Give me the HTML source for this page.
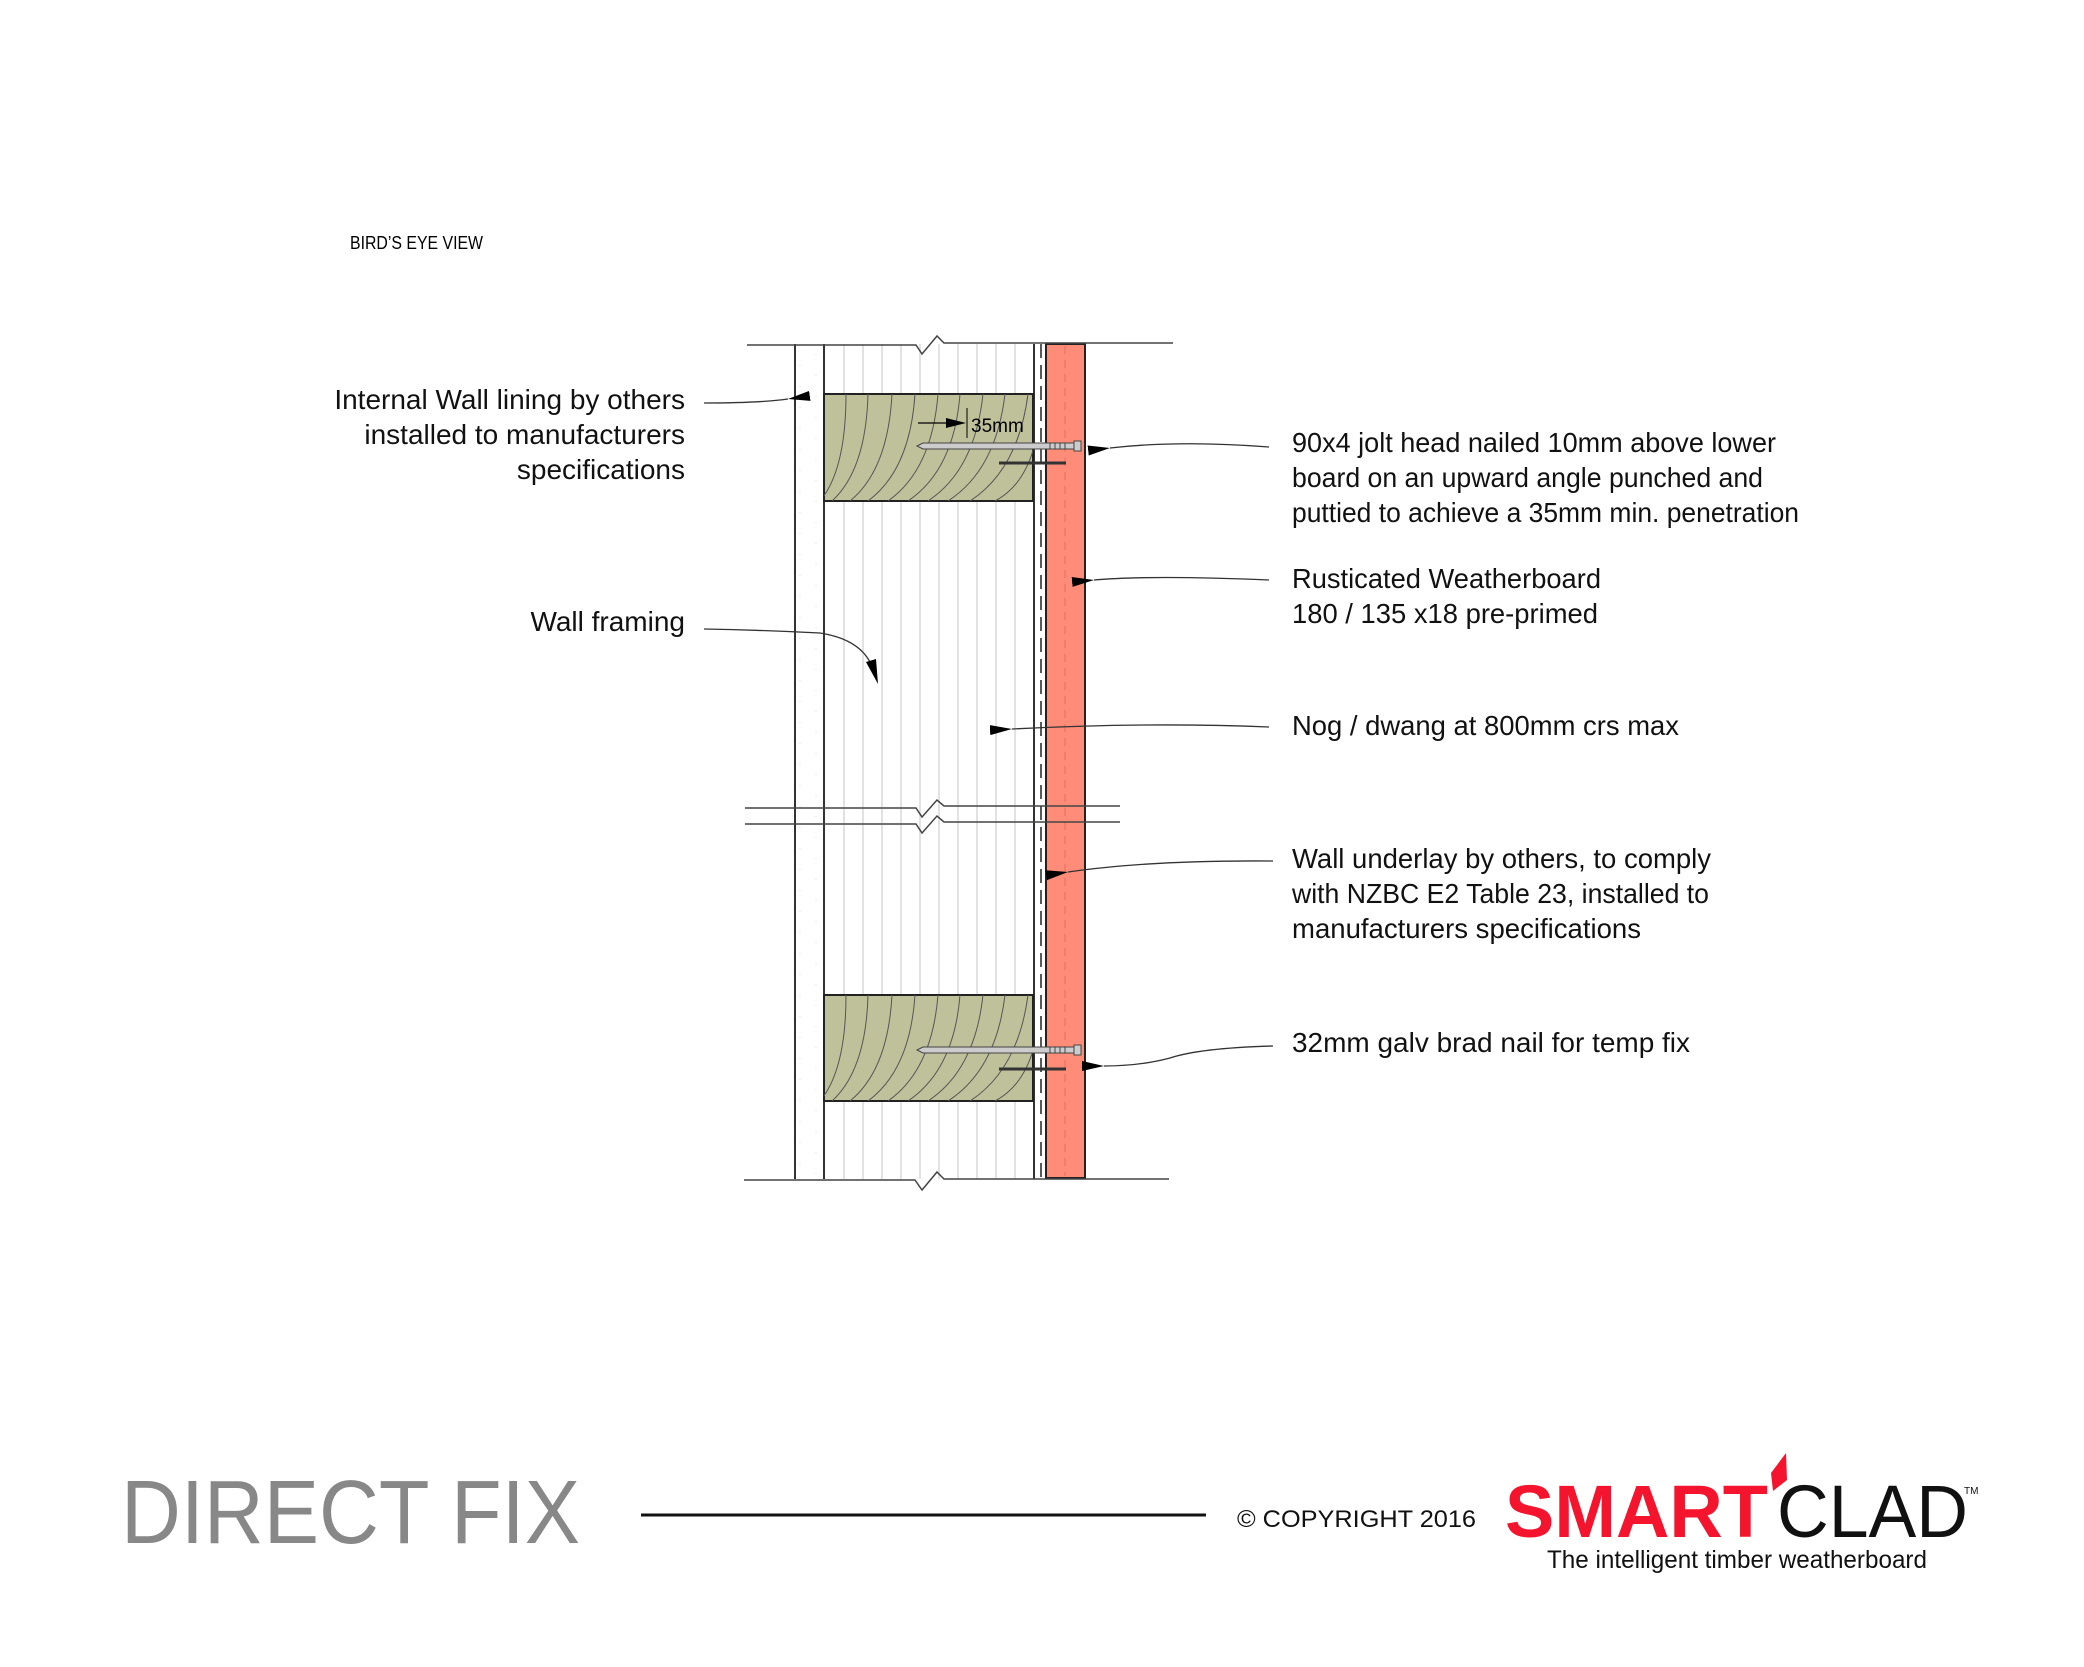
<!DOCTYPE html>
<html><head><meta charset="utf-8"><style>
html,body{margin:0;padding:0;background:#fff}
svg{display:block}
text{font-family:"Liberation Sans",sans-serif}
</style></head><body>
<svg width="2084" height="1667" viewBox="0 0 2084 1667" xmlns="http://www.w3.org/2000/svg">
<defs>
<marker id="ah" markerWidth="22" markerHeight="10" refX="0" refY="5" orient="auto" markerUnits="userSpaceOnUse">
<path d="M22,0 L0,5 L22,10 Z" fill="#000"/>
</marker>
<clipPath id="n1"><rect x="824" y="394" width="209" height="107"/></clipPath>
<clipPath id="n2"><rect x="824" y="995" width="209" height="106"/></clipPath>
</defs>

<text x="350" y="249" font-size="18" textLength="133" lengthAdjust="spacingAndGlyphs">BIRD’S EYE VIEW</text>

<g stroke="#e2e2e2" stroke-width="2">
<line x1="844" y1="344" x2="844" y2="1179"/><line x1="863" y1="344" x2="863" y2="1179"/>
<line x1="882" y1="344" x2="882" y2="1179"/><line x1="901" y1="344" x2="901" y2="1179"/>
<line x1="920" y1="344" x2="920" y2="1179"/><line x1="939" y1="344" x2="939" y2="1179"/>
<line x1="958" y1="344" x2="958" y2="1179"/><line x1="977" y1="344" x2="977" y2="1179"/>
<line x1="996" y1="344" x2="996" y2="1179"/><line x1="1015" y1="344" x2="1015" y2="1179"/>
</g>
<g stroke="#ddd" stroke-width="1" stroke-dasharray="1,20">
<line x1="800" y1="344" x2="800" y2="1179"/><line x1="816" y1="354" x2="816" y2="1179"/>
</g>
<g stroke="#333" stroke-width="2">
<line x1="795" y1="344" x2="795" y2="1179"/>
<line x1="824" y1="344" x2="824" y2="1179"/>
<line x1="1034" y1="344" x2="1034" y2="1179"/>
</g>
<line x1="1041" y1="344" x2="1041" y2="1179" stroke="#222" stroke-width="1.5" stroke-dasharray="14,7"/>
<rect x="1046" y="344" width="39" height="834" fill="#ff8c78" stroke="#222" stroke-width="2"/>
<line x1="1065" y1="346" x2="1065" y2="1176" stroke="#e07060" stroke-width="1" stroke-dasharray="8,6"/>

<rect x="824" y="394" width="209" height="107" fill="#bfc19b" stroke="#222" stroke-width="2"/>
<g clip-path="url(#n1)" fill="none" stroke="#555" stroke-width="1">
<path d="M846,394 Q846,470 820,501"/><path d="M868,394 Q866,470 832,501"/><path d="M892,394 Q888,470 850,501"/>
<path d="M915,394 Q910,470 868,501"/><path d="M938,394 Q932,470 888,501"/><path d="M960,394 Q954,470 908,501"/>
<path d="M983,394 Q975,470 928,501"/><path d="M1005,394 Q996,470 948,501"/><path d="M1028,394 Q1018,470 970,501"/>
<path d="M1040,410 Q1035,480 995,501"/>
</g>
<rect x="824" y="995" width="209" height="106" fill="#bfc19b" stroke="#222" stroke-width="2"/>
<g clip-path="url(#n2)" fill="none" stroke="#555" stroke-width="1">
<path d="M846,995 Q846,1070 820,1101"/><path d="M868,995 Q866,1070 832,1101"/><path d="M892,995 Q888,1070 850,1101"/>
<path d="M915,995 Q910,1070 868,1101"/><path d="M938,995 Q932,1070 888,1101"/><path d="M960,995 Q954,1070 908,1101"/>
<path d="M983,995 Q975,1070 928,1101"/><path d="M1005,995 Q996,1070 948,1101"/><path d="M1028,995 Q1018,1070 970,1101"/>
<path d="M1040,1010 Q1035,1080 995,1101"/>
</g>

<g>
<path d="M917,446 L923,443 L1074,443 L1074,449 L923,449 Z" fill="#ccc" stroke="#444" stroke-width="1"/>
<rect x="1074" y="441" width="7" height="10" fill="#ccc" stroke="#444"/>
<g stroke="#444" stroke-width="1"><line x1="1050" y1="443" x2="1050" y2="449"/><line x1="1055" y1="443" x2="1055" y2="449"/><line x1="1060" y1="443" x2="1060" y2="449"/><line x1="1065" y1="443" x2="1065" y2="449"/></g>
<line x1="999" y1="463" x2="1066" y2="463" stroke="#333" stroke-width="3"/>
<path d="M917,1050 L923,1047 L1074,1047 L1074,1053 L923,1053 Z" fill="#ccc" stroke="#444" stroke-width="1"/>
<rect x="1074" y="1045" width="7" height="10" fill="#ccc" stroke="#444"/>
<g stroke="#444" stroke-width="1"><line x1="1050" y1="1047" x2="1050" y2="1053"/><line x1="1055" y1="1047" x2="1055" y2="1053"/><line x1="1060" y1="1047" x2="1060" y2="1053"/><line x1="1065" y1="1047" x2="1065" y2="1053"/></g>
<line x1="999" y1="1069" x2="1066" y2="1069" stroke="#333" stroke-width="3"/>
</g>
<line x1="918" y1="423" x2="950" y2="423" stroke="#000" stroke-width="1.2"/>
<path d="M966,423 L946,418 L946,428 Z" fill="#000"/>
<line x1="967" y1="408" x2="967" y2="438" stroke="#000" stroke-width="1"/>
<text x="971" y="432" font-size="19">35mm</text>

<g fill="none" stroke="#444" stroke-width="1.5">
<path d="M747,345 L916,345 L922,354 L937,336 L944,343 L1173,343"/>
<path d="M745,808 L916,808 L922,817 L937,800 L944,806 L1120,806"/>
<path d="M745,824 L916,824 L922,833 L937,816 L944,822 L1120,822"/>
<path d="M744,1180 L915,1180 L922,1190 L937,1172 L944,1179 L1169,1179"/>
</g>

<g fill="none" stroke="#333" stroke-width="1.3">
<path d="M704,403 Q760,403 788,399" marker-end="url(#ah)"/>
<path d="M704,629 Q760,630 820,633 Q865,640 874,672"/>
<path d="M1269,447 Q1180,440 1110,448" marker-end="url(#ah)"/>
<path d="M1269,580 Q1150,575 1094,580" marker-end="url(#ah)"/>
<path d="M1269,727 Q1150,722 1012,729" marker-end="url(#ah)"/>
<path d="M1273,861 Q1150,860 1068,872" marker-end="url(#ah)"/>
<path d="M1273,1046 Q1200,1048 1170,1058 Q1140,1066 1104,1066" marker-end="url(#ah)"/>
</g>
<path d="M878,684 L866,662 L876,659 Z" fill="#000"/>

<g font-size="28" fill="#111">
<text x="685" y="409" text-anchor="end">Internal Wall lining by others</text>
<text x="685" y="444" text-anchor="end">installed to manufacturers</text>
<text x="685" y="479" text-anchor="end">specifications</text>
<text x="685" y="631" text-anchor="end">Wall framing</text>
<text x="1292" y="452" textLength="484" lengthAdjust="spacingAndGlyphs">90x4 jolt head nailed 10mm above lower</text>
<text x="1292" y="487" textLength="471" lengthAdjust="spacingAndGlyphs">board on an upward angle punched and</text>
<text x="1292" y="522" textLength="507" lengthAdjust="spacingAndGlyphs">puttied to achieve a 35mm min. penetration</text>
<text x="1292" y="588" textLength="309" lengthAdjust="spacingAndGlyphs">Rusticated Weatherboard</text>
<text x="1292" y="623" textLength="306" lengthAdjust="spacingAndGlyphs">180 / 135 x18 pre-primed</text>
<text x="1292" y="735" textLength="387" lengthAdjust="spacingAndGlyphs">Nog / dwang at 800mm crs max</text>
<text x="1292" y="868" textLength="419" lengthAdjust="spacingAndGlyphs">Wall underlay by others, to comply</text>
<text x="1292" y="903" textLength="417" lengthAdjust="spacingAndGlyphs">with NZBC E2 Table 23, installed to</text>
<text x="1292" y="938" textLength="349" lengthAdjust="spacingAndGlyphs">manufacturers specifications</text>
<text x="1292" y="1052" textLength="398" lengthAdjust="spacingAndGlyphs">32mm galv brad nail for temp fix</text>
</g>

<text x="121" y="1543" font-size="90" fill="#888" textLength="459" lengthAdjust="spacingAndGlyphs">DIRECT FIX</text>
<line x1="641" y1="1515" x2="1206" y2="1515" stroke="#111" stroke-width="3"/>
<text x="1237" y="1527" font-size="24" fill="#111" textLength="239" lengthAdjust="spacingAndGlyphs">© COPYRIGHT 2016</text>
<text x="1505" y="1537" font-size="74" font-weight="bold" fill="#f5142e" textLength="263" lengthAdjust="spacingAndGlyphs">SMART</text>
<polygon points="1771,1473 1786,1453 1787,1480 1773,1491" fill="#f5142e"/>
<text x="1777" y="1537" font-size="74" fill="#111" textLength="191" lengthAdjust="spacingAndGlyphs">CLAD</text>
<text x="1964" y="1494" font-size="10" fill="#111">TM</text>
<text x="1547" y="1568" font-size="25" fill="#111" textLength="380" lengthAdjust="spacingAndGlyphs">The intelligent timber weatherboard</text>
</svg>
</body></html>
